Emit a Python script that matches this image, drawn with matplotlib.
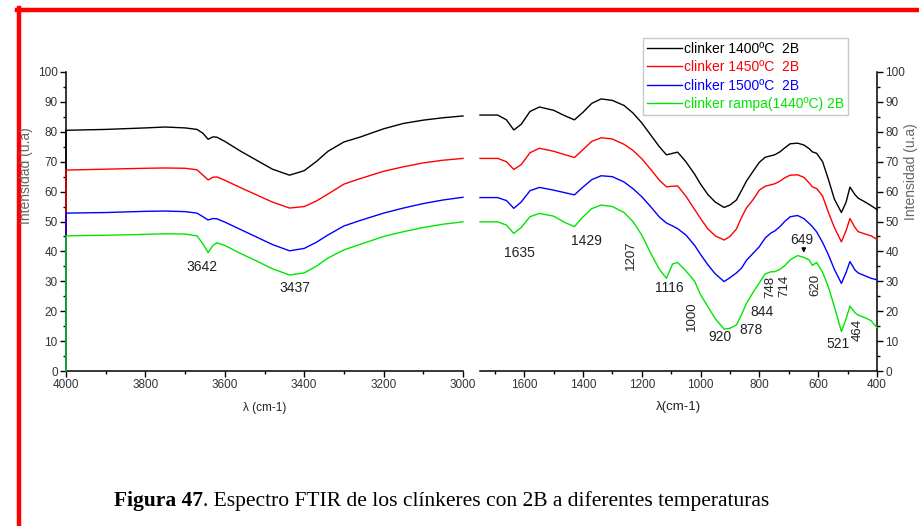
import numpy as np
import matplotlib
matplotlib.use('Agg')
import matplotlib.pyplot as plt
from matplotlib.lines import Line2D
from matplotlib.ticker import MultipleLocator

plt.rcParams['font.family'] = ['Liberation Sans', 'DejaVu Sans']

# ---- left panel (4000-3000 cm-1), first point is the drop to 0 at 4000
wn_left = [4000, 4000, 3900, 3800, 3750, 3700, 3670, 3655, 3642, 3630, 3620, 3600, 3560,
           3520, 3480, 3437, 3400, 3370, 3340, 3300, 3260, 3200, 3150, 3100, 3050, 3000]
k1400_left = [0, 80.5, 80.8, 81.3, 81.6, 81.3, 80.8, 79.5, 77.5, 78.3, 78.2, 76.8, 73.5,
              70.5, 67.5, 65.5, 67.0, 70.0, 73.5, 76.6, 78.2, 81.0, 82.8, 83.9, 84.7, 85.3]
k1450_left = [0, 67.2, 67.5, 67.8, 67.9, 67.8, 67.3, 65.5, 63.9, 64.8, 64.9, 63.8, 61.3,
              58.9, 56.5, 54.5, 55.0, 56.8, 59.2, 62.5, 64.3, 66.8, 68.3, 69.6, 70.5, 71.1]
k1500_left = [0, 52.8, 53.0, 53.4, 53.5, 53.3, 52.8, 51.6, 50.5, 51.0, 50.9, 49.8, 47.3,
              44.8, 42.3, 40.2, 41.0, 43.0, 45.5, 48.5, 50.3, 52.8, 54.5, 56.0, 57.2, 58.1]
rampa_left = [0, 45.2, 45.4, 45.7, 45.9, 45.8, 45.2, 42.5, 39.6, 42.0, 42.9, 42.0, 39.3,
              36.8, 34.2, 32.1, 32.8, 35.0, 37.8, 40.5, 42.3, 45.0, 46.6, 48.0, 49.1, 49.9]

# ---- right panel (1750-400 cm-1)
wn_right = [1750, 1690, 1660, 1635, 1610, 1580, 1548, 1500, 1460, 1429, 1400, 1370, 1338,
            1300, 1260, 1230, 1200, 1170, 1140, 1116, 1095, 1078, 1050, 1020, 1000, 975,
            950, 920, 900, 878, 860, 844, 820, 800, 780, 760, 748, 730, 714, 695, 670,
            649, 630, 620, 605, 585, 565, 545, 521, 505, 492, 475, 464, 440, 420, 400]
k1400_right = [85.6, 85.6, 84.0, 80.6, 82.5, 86.8, 88.3, 87.2, 85.3, 84.0, 86.5, 89.5, 91.0,
               90.5, 88.8, 86.3, 83.0, 79.0, 75.0, 72.3, 72.8, 73.2, 70.0, 65.8, 62.5, 59.0,
               56.5, 54.7, 55.5, 57.2, 60.5, 63.5, 67.0, 69.8, 71.5, 72.0, 72.3, 73.3, 74.6,
               76.0, 76.2, 75.6, 74.3, 73.3, 72.8, 70.0, 64.0, 57.5, 53.0, 56.5, 61.5, 59.0,
               57.8, 56.5, 55.3, 54.0]
k1450_right = [71.1, 71.1, 70.0, 67.4, 69.0, 73.0, 74.5, 73.5, 72.3, 71.4, 74.0, 76.8, 78.0,
               77.6, 75.8, 73.8, 71.0, 67.5, 63.8, 61.6, 61.8, 61.9, 58.5, 54.0, 51.0, 47.5,
               45.2, 43.8, 45.0, 47.5, 51.5, 54.5, 57.5, 60.5, 61.8, 62.3, 62.6, 63.5, 64.6,
               65.5, 65.6, 64.8, 62.8, 61.6, 61.0, 58.5, 53.0, 48.0, 43.2, 47.0, 51.0, 48.0,
               46.6, 45.8, 45.2, 44.0]
k1500_right = [58.0, 58.0, 57.0, 54.4, 56.5, 60.3, 61.4, 60.5, 59.6, 58.9, 61.5, 64.0, 65.3,
               65.0, 63.2, 61.0, 58.3, 55.0, 51.5, 49.5, 48.5, 47.6, 45.5, 42.0, 39.0, 35.5,
               32.5, 29.9, 31.2, 32.8, 34.5, 37.0, 39.5, 41.6, 44.5, 46.2, 46.8, 48.3, 50.0,
               51.6, 52.0, 51.0, 49.3, 48.3, 46.5, 43.0, 38.8, 34.0, 29.3, 33.0, 36.6, 33.8,
               32.8, 31.8, 31.0, 30.5]
rampa_right = [49.9, 49.9, 48.8, 46.0, 48.0, 51.6, 52.7, 51.8, 49.6, 48.3, 51.5, 54.3, 55.5,
               55.0, 53.0, 50.0, 45.5, 39.5, 34.0, 31.0, 35.8, 36.3, 33.5, 30.0, 25.5, 21.5,
               17.5, 14.0, 14.3, 15.4, 19.0, 22.6, 26.5, 29.5, 32.5, 33.2, 33.2, 34.0, 35.2,
               37.2, 38.6, 38.0, 37.1, 35.3, 36.3, 33.0, 28.0, 21.5, 13.2, 17.5, 21.7, 19.5,
               18.7, 17.8, 16.8, 14.5]

labels = ['clinker 1400\u00baC  2B', 'clinker 1450\u00baC  2B',
          'clinker 1500\u00baC  2B', 'clinker rampa(1440\u00baC) 2B']
colors = ['black', '#ff0000', '#0000ff', '#00e600']

# band labels: (text, x, y, rotation)
marks_left = [('3642', 3658, 34.7, 0), ('3437', 3423, 27.7, 0)]
marks_right = [('1635', 1616, 39.6, 0), ('1429', 1389, 43.6, 0), ('1207', 1236, 38.8, 90),
               ('1116', 1105, 27.7, 0), ('1000', 1028, 18.2, 90), ('920', 933, 11.5, 0),
               ('878', 827, 13.7, 0), ('844', 790, 19.6, 0), ('748', 762, 28.0, 90),
               ('714', 716, 28.6, 90), ('649', 655, 43.8, 0), ('620', 611, 28.8, 90),
               ('521', 532, 9.0, 0), ('464', 464, 13.7, 90)]

fig = plt.figure(figsize=(9.2, 5.26), dpi=100)
W, H = 920.0, 526.0
axL = fig.add_axes([66 / W, 155 / H, 397 / W, 299 / H])
axR = fig.add_axes([480 / W, 155 / H, 397 / W, 299 / H])

left_series = [k1400_left, k1450_left, k1500_left, rampa_left]
right_series = [k1400_right, k1450_right, k1500_right, rampa_right]
handles = []
for ys, c in zip(left_series, colors):
    axL.plot(wn_left, ys, color=c, lw=1.0, clip_on=False, zorder=3)
for ys, c, lab in zip(right_series, colors, labels):
    h, = axR.plot(wn_right, ys, color=c, lw=1.0, label=lab, clip_on=False, zorder=3)
    handles.append(h)

axL.set_xlim(4000, 3000)
axR.set_xlim(1750, 400)
for ax in (axL, axR):
    ax.set_ylim(0, 100)
    ax.yaxis.set_major_locator(MultipleLocator(10))
    ax.yaxis.set_minor_locator(MultipleLocator(5))
    ax.xaxis.set_major_locator(MultipleLocator(200))
    ax.xaxis.set_minor_locator(MultipleLocator(100))
    ax.tick_params(which='major', direction='out', length=4, width=1,
                   labelsize=8.5, labelcolor='#333333', pad=2)
    ax.tick_params(which='minor', direction='out', length=2.5, width=1)
    ax.spines['top'].set_visible(False)
    for s in ax.spines.values():
        s.set_linewidth(1.1)
    ax.set_facecolor('none')

axL.spines['right'].set_visible(False)
axR.spines['left'].set_visible(False)
axR.yaxis.tick_right()
axR.tick_params(axis='y', which='both', left=False, right=True, labelleft=False, labelright=True)

axL.set_xlabel('\u03bb (cm-1)', fontsize=8.5, color='#222222', labelpad=8)
axR.set_xlabel('\u03bb(cm-1)', fontsize=9.5, color='#222222', labelpad=7)
fig.text(26 / W, 1 - 176 / H, 'Intensidad (u.a)', rotation=90, ha='center', va='center',
         fontsize=10, color='#666666')
fig.text(911 / W, 1 - 172 / H, 'Intensidad (u.a)', rotation=90, ha='center', va='center',
         fontsize=10, color='#666666')

for txt, x, y, rot in marks_left:
    axL.text(x, y, txt, ha='center', va='center', rotation=rot, fontsize=10, color='#222222')
for txt, x, y, rot in marks_right:
    fs = 9.5 if rot else 10
    axR.text(x, y, txt, ha='center', va='center', rotation=rot, fontsize=fs, color='#222222')
axR.annotate('', xy=(649, 38.6), xytext=(649, 42.0),
             arrowprops=dict(arrowstyle='-|>', color='black', lw=1, mutation_scale=6))

leg = fig.legend(handles=handles, loc='upper left', bbox_to_anchor=(643 / W, 1 - 38 / H),
                 fontsize=10, labelcolor='linecolor', frameon=True, fancybox=False,
                 edgecolor='#bbbbbb', borderaxespad=0, borderpad=0.3, handlelength=2.5,
                 handletextpad=0.15, labelspacing=0.3)
leg.get_frame().set_linewidth(1.0)

# caption in the page style: bold part, then the rest right after it
cap_y = 1 - 501 / H
bold = fig.text(114 / W, cap_y, 'Figura 47', fontsize=15.5, fontweight='bold',
                family='Liberation Serif', va='center', ha='left')
fig.canvas.draw()
bb = bold.get_window_extent()
fig.text(bb.x1 / W, cap_y, '. Espectro FTIR de los cl\u00ednkeres con 2B a diferentes temperaturas',
         fontsize=15.5, family='Liberation Serif', va='center', ha='left')

# red page frame
fig.add_artist(Line2D([17 / W, 1], [1 - 9.5 / H, 1 - 9.5 / H], color='red', lw=3.2))
fig.add_artist(Line2D([19 / W, 19 / W], [0, 1 - 8 / H], color='red', lw=3.2))

fig.savefig('out.png', dpi=100, facecolor='white')
